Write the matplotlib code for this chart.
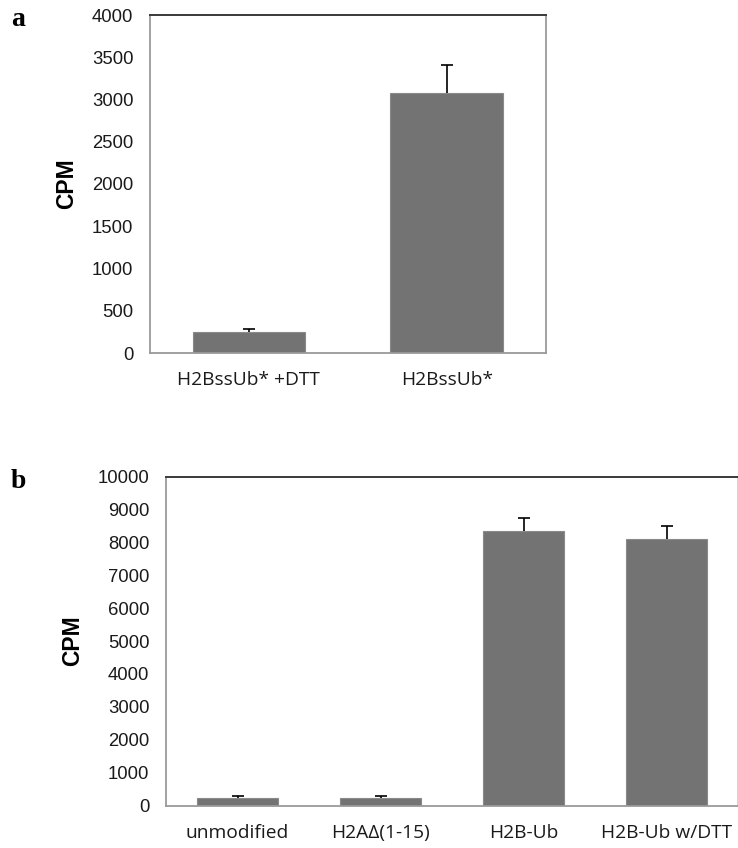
import matplotlib
matplotlib.use("Agg")
import matplotlib.pyplot as plt
import numpy as np

# Panel a data
cats_a = ["H2BssUb* +DTT", "H2BssUb*"]
vals_a = [245, 3080]
errs_a = [40, 330]
yticks_a = [0, 500, 1000, 1500, 2000, 2500, 3000, 3500, 4000]

# Panel b data
cats_b = ["unmodified", "H2AΔ(1-15)", "H2B-Ub", "H2B-Ub w/DTT"]
vals_b = [235, 240, 8330, 8100]
errs_b = [50, 50, 420, 390]
yticks_b = [0, 1000, 2000, 3000, 4000, 5000, 6000, 7000, 8000, 9000, 10000]

W, H = 738, 848
fig = plt.figure(figsize=(W / 100, H / 100), dpi=100)

BAR = "#737373"
TICKFONT = ["Liberation Sans", "DejaVu Sans"]
XFONT = ["Open Sans", "DejaVu Sans"]


def make_ax(left, top, right, bottom):
    return fig.add_axes([left / W, 1 - bottom / H, (right - left) / W, (bottom - top) / H])


def style(ax, cats, vals, errs, yticks, ymax):
    x = np.arange(len(cats))
    vals = np.asarray(vals, float)
    errs = np.asarray(errs, float)
    ax.bar(x, vals, width=0.57, color=BAR, edgecolor="#8a8a8a", linewidth=0.8, zorder=2)
    ax.errorbar(x, vals, yerr=[np.zeros(len(errs)), errs], fmt="none",
                ecolor="black", elinewidth=1.2, capsize=0, zorder=3)
    ax.plot(x, vals + errs, linestyle="none", marker="_", markersize=8,
            markeredgewidth=1.2, color="black", zorder=3)
    ax.set_xlim(-0.5, len(cats) - 0.5)
    ax.set_ylim(0, ymax)
    ax.set_yticks(yticks)
    ax.set_yticklabels([str(t) for t in yticks], family=TICKFONT, fontsize=13.3, color="#1a1a1a")
    ax.set_xticks(x)
    ax.set_xticklabels(cats, family=XFONT, fontsize=13.8, color="#1a1a1a")
    ax.tick_params(axis="y", length=0, pad=12)
    ax.tick_params(axis="x", length=0, pad=13)
    for s in ["left", "bottom", "right"]:
        ax.spines[s].set_color("#9a9a9a")
        ax.spines[s].set_linewidth(1.3)
    ax.spines["top"].set_color("#3a3a3a")
    ax.spines["top"].set_linewidth(1.4)
    ax.set_ylabel("CPM", family=TICKFONT, fontsize=16.5, fontweight="bold", labelpad=10)


ax_a = make_ax(150, 15, 545.7, 353)
style(ax_a, cats_a, vals_a, errs_a, yticks_a, 4000)

ax_b = make_ax(166, 476.5, 738, 805.5)
style(ax_b, cats_b, vals_b, errs_b, yticks_b, 10000)
ax_b.spines["right"].set_color("#d0d0d0")

fig.text(11 / W, 1 - 20 / H, "a", family=["Liberation Serif", "DejaVu Serif"],
         fontsize=20, fontweight="bold", va="center", ha="left")
fig.text(11 / W, 1 - 481 / H, "b", family=["Liberation Serif", "DejaVu Serif"],
         fontsize=20, fontweight="bold", va="center", ha="left")

fig.savefig("out.png", dpi=100, facecolor="white")
